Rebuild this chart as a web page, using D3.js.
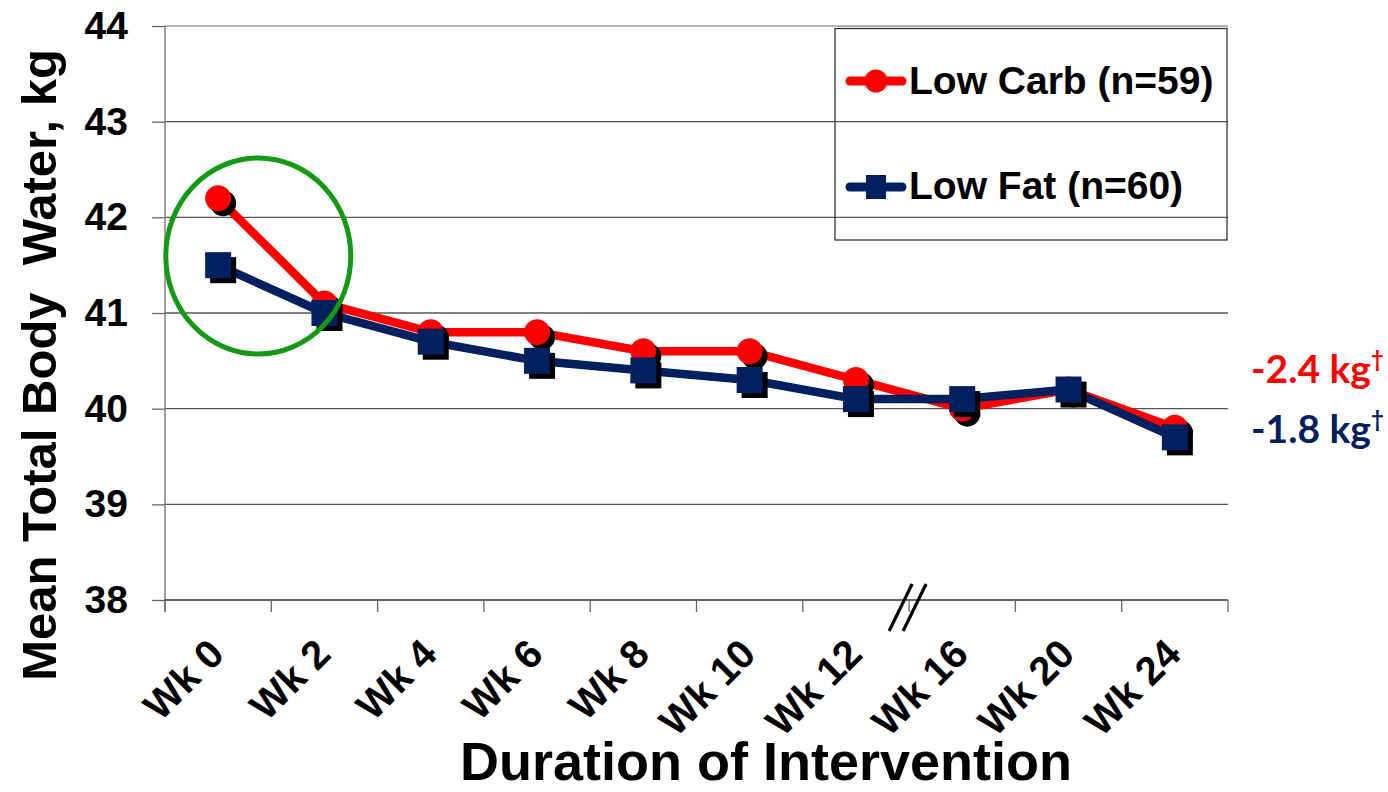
<!DOCTYPE html>
<html>
<head>
<meta charset="utf-8">
<script src="https://cdn.jsdelivr.net/npm/d3@7"></script>
<style>
  html, body { margin: 0; padding: 0; background: #fff; }
  svg { display: block; font-family: "Liberation Sans", Arial, sans-serif; }
</style>
</head>
<body>
<svg id="chart" width="1388" height="792"></svg>
<script>
// Weeks of the intervention (category axis)
const weeks = ["Wk 0", "Wk 2", "Wk 4", "Wk 6", "Wk 8", "Wk 10", "Wk 12", "Wk 16", "Wk 20", "Wk 24"];
// Mean total body water (kg) per group
const lowCarb = [42.2, 41.1, 40.8, 40.8, 40.6, 40.6, 40.3, 40.0, 40.2, 39.8];
const lowFat  = [41.5, 41.0, 40.7, 40.5, 40.4, 40.3, 40.1, 40.1, 40.2, 39.7];
const yTicks = [38, 39, 40, 41, 42, 43, 44];
const seriesNames = ["Low Carb (n=59)", "Low Fat (n=60)"];
const changeLabels = ["-2.4 kg", "-1.8 kg"];

const RED = "#ff0000", NAVY = "#002060", GREEN = "#149914";

const svg = d3.select("#chart");
const pLeft = 165, pRight = 1228, pTop = 26, pBottom = 600;

const x = d3.scaleBand().domain(weeks).range([pLeft, pRight]).padding(0);
const y = d3.scaleLinear().domain([38, 44]).range([pBottom, pTop]);
const cx = w => x(w) + x.bandwidth() / 2;

// horizontal gridlines
svg.append("g").selectAll("line").data(yTicks.filter(t => t > 38)).join("line")
  .attr("x1", pLeft).attr("x2", pRight)
  .attr("y1", d => y(d)).attr("y2", d => y(d))
  .attr("stroke", d => d === 44 ? "#9a9a9a" : "#555").attr("stroke-width", 1.3);

// y axis
const yAxis = svg.append("g").attr("transform", `translate(${pLeft},0)`)
  .call(d3.axisLeft(y).tickValues(yTicks).tickSize(13).tickPadding(24).tickFormat(d3.format("d")));
yAxis.select(".domain").attr("stroke", "#888").attr("stroke-width", 1.6).attr("d", `M0,${pTop}V${pBottom + 12}`);
yAxis.selectAll(".tick line").attr("stroke", "#666").attr("stroke-width", 1.3);
yAxis.selectAll(".tick text").attr("font-size", 39).attr("font-weight", "bold").attr("fill", "#000")
  .attr("font-family", "Liberation Sans, Arial, sans-serif");

// x axis: ticks at category boundaries
const xAxisG = svg.append("g");
xAxisG.append("line").attr("x1", pLeft).attr("x2", pRight).attr("y1", pBottom).attr("y2", pBottom)
  .attr("stroke", "#333").attr("stroke-width", 1.6);
xAxisG.selectAll("line.tk").data(weeks.concat(["_end"])).join("line").attr("class", "tk")
  .attr("x1", (d, i) => i < weeks.length ? x(d) : pRight)
  .attr("x2", (d, i) => i < weeks.length ? x(d) : pRight)
  .attr("y1", pBottom).attr("y2", pBottom + 12)
  .attr("stroke", "#666").attr("stroke-width", 1.3);
xAxisG.selectAll("text").data(weeks).join("text")
  .attr("transform", d => `translate(${cx(d) - 2},646) rotate(-45)`)
  .attr("text-anchor", "end").attr("dy", "0.36em")
  .attr("font-size", 40).attr("font-weight", "bold").text(d => d);

// axis break marks between Wk 12 and Wk 16
const brk = x("Wk 16");
[-10, 4].forEach(off => {
  svg.append("line")
    .attr("x1", brk + off - 10).attr("y1", pBottom + 31)
    .attr("x2", brk + off + 13).attr("y2", pBottom - 16)
    .attr("stroke", "#000").attr("stroke-width", 3.2);
});

// axis titles
svg.append("text").attr("x", 766).attr("y", 780).attr("text-anchor", "middle")
  .attr("font-size", 54).attr("font-weight", "bold").text("Duration of Intervention");
svg.append("text").attr("transform", "translate(56,365) rotate(-90)")
  .attr("text-anchor", "middle").attr("font-size", 49).attr("font-weight", "bold")
  .style("white-space", "pre").text("Mean Total Body  Water, kg");

// series
const line = d3.line().x(d => cx(d.w)).y(d => y(d.v));
function drawSeries(vals, color, shape) {
  const pts = weeks.map((w, i) => ({ w, v: vals[i] }));
  const g = svg.append("g");
  g.append("path").datum(pts).attr("d", line).attr("fill", "none")
    .attr("stroke", color).attr("stroke-width", 8.5).attr("stroke-linejoin", "round");
  const off = 5;
  if (shape === "circle") {
    g.selectAll("circle.sh").data(pts).join("circle").attr("class", "sh")
      .attr("cx", d => cx(d.w) + off).attr("cy", d => y(d.v) + off).attr("r", 13).attr("fill", "#000");
    g.selectAll("circle.mk").data(pts).join("circle").attr("class", "mk")
      .attr("cx", d => cx(d.w)).attr("cy", d => y(d.v)).attr("r", 13).attr("fill", color);
  } else {
    const s = 26;
    g.selectAll("rect.sh").data(pts).join("rect").attr("class", "sh")
      .attr("x", d => cx(d.w) - s / 2 + off).attr("y", d => y(d.v) - s / 2 + off)
      .attr("width", s).attr("height", s).attr("fill", "#000");
    g.selectAll("rect.mk").data(pts).join("rect").attr("class", "mk")
      .attr("x", d => cx(d.w) - s / 2).attr("y", d => y(d.v) - s / 2)
      .attr("width", s).attr("height", s).attr("fill", color);
  }
}
drawSeries(lowCarb, RED, "circle");
drawSeries(lowFat, NAVY, "square");

// highlight ellipse around the first weeks
svg.append("ellipse").attr("cx", (cx("Wk 0") + cx("Wk 2")) / 2 - 13).attr("cy", 256)
  .attr("rx", 92.5).attr("ry", 98).attr("fill", "none")
  .attr("stroke", GREEN).attr("stroke-width", 5);

// legend
const lg = svg.append("g");
lg.append("rect").attr("x", 835).attr("y", 28.5).attr("width", 392).attr("height", 211.5)
  .attr("fill", "none").attr("stroke", "#333").attr("stroke-width", 1.3);
const legendRows = [
  { name: seriesNames[0], color: RED, shape: "circle", ly: 81, ty: 94 },
  { name: seriesNames[1], color: NAVY, shape: "square", ly: 187, ty: 199 }
];
legendRows.forEach(r => {
  lg.append("line").attr("x1", 850).attr("x2", 902).attr("y1", r.ly).attr("y2", r.ly)
    .attr("stroke", r.color).attr("stroke-width", 9).attr("stroke-linecap", "round");
  if (r.shape === "circle") {
    lg.append("circle").attr("cx", 876).attr("cy", r.ly).attr("r", 11.5).attr("fill", r.color);
  } else {
    lg.append("rect").attr("x", 866).attr("y", r.ly - 12).attr("width", 20).attr("height", 24).attr("fill", r.color);
  }
  lg.append("text").attr("x", 909).attr("y", r.ty).attr("font-size", 39).attr("font-weight", "bold")
    .text(r.name);
});

// change annotations at the right
[[changeLabels[0], RED, 383], [changeLabels[1], NAVY, 443]].forEach(([t, c, yy]) => {
  const tx = svg.append("text").attr("x", 1251).attr("y", yy).attr("fill", c)
    .attr("font-family", "Lato, 'Open Sans', sans-serif").attr("font-weight", "bold").attr("font-size", 39);
  tx.append("tspan").text(t);
  tx.append("tspan").attr("font-size", 22).attr("dy", -16).text("†");
});
</script>
</body>
</html>
